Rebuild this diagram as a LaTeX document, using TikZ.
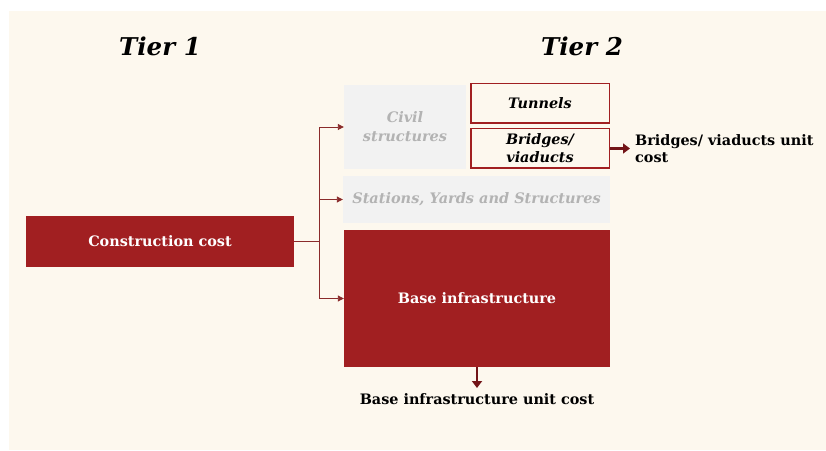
\documentclass[tikz,border=0pt]{standalone}
\usepackage{fontspec}
\setmainfont{DejaVu Serif}
\usetikzlibrary{arrows.meta}
\definecolor{cream}{HTML}{FDF8EE}
\definecolor{brick}{HTML}{A11F21}
\definecolor{darkred}{HTML}{731518}
\definecolor{lightgray}{HTML}{F2F2F2}
\definecolor{graytext}{HTML}{B3B3B3}
\definecolor{linkred}{HTML}{8A2B2B}
\begin{document}
\begin{tikzpicture}[x=1pt,y=1pt,
  redbox/.style={fill=brick, draw=none, text=white, font=\fontsize{14.4}{18}\selectfont\bfseries, inner sep=0pt},
  graybox/.style={fill=lightgray, draw=none, text=graytext, font=\fontsize{14.5}{19}\selectfont\bfseries\itshape, align=center, inner sep=0pt},
  outlinebox/.style={fill=cream, draw=brick, line width=1.5pt, text=black, font=\fontsize{14.4}{18}\selectfont\bfseries\itshape, align=center, inner sep=0pt},
  tier/.style={font=\fontsize{24.5}{28}\selectfont\bfseries\itshape},
  label/.style={font=\fontsize{14.4}{16.5}\selectfont\bfseries, text=black, inner sep=0pt},
  link/.style={draw=linkred, line width=0.9pt, -{Triangle[length=6pt,width=6pt]}},
  bigarrow/.style={draw=darkred, line width=2.8pt, -{Triangle[length=7pt,width=10pt]}}]
\useasboundingbox (0,0) rectangle (826,450);
\fill[white] (0,0) rectangle (826,450);
\fill[cream] (9,0) rectangle (826,439);

\node[tier] (t1) at (160,404) {Tier 1};
\node[tier] (t2) at (582,404) {Tier 2};

\node[redbox, minimum width=268pt, minimum height=51pt] (cc) at (160,208.7) {Construction cost};

\node[graybox, minimum width=122pt, minimum height=84pt] (civ) at (405,323) {Civil\\structures};
\node[outlinebox, minimum width=138.5pt, minimum height=39.5pt] (tun) at (540,346.5) {Tunnels};
\node[outlinebox, minimum width=138.5pt, minimum height=39.5pt] (bri) at (540,301.5) {Bridges/\\viaducts};
\node[graybox, minimum width=267pt, minimum height=47pt] (sta) at (476.5,250.5) {Stations, Yards and Structures};
\node[redbox, minimum width=266pt, minimum height=137pt] (base) at (477,151.5) {Base infrastructure};

\coordinate (mid) at (319,208.7);
\draw[draw=linkred, line width=0.9pt] (cc.east) -- (mid);
\draw[link] (mid) |- (civ.west);
\draw[link] (mid) |- (sta.west);
\draw[link] (mid) |- (base.west);

\coordinate (bend) at (630,301.5);
\node[label, anchor=west, align=left] (bril) at (635,301.5) {Bridges/ viaducts unit\\cost};
\draw[bigarrow] (bri.east) -- (bend);

\node[label] (basel) at (477,51) {Base infrastructure unit cost};
\coordinate (bend2) at (477,62);
\draw[bigarrow] (base.south) -- (bend2);
\end{tikzpicture}
\end{document}
